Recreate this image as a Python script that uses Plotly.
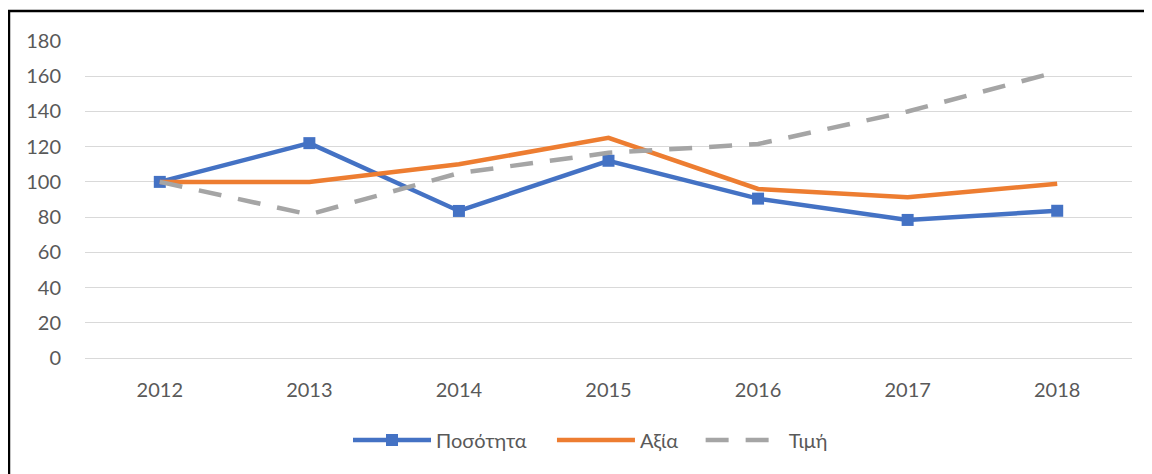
import plotly.graph_objects as go

years = ["2012", "2013", "2014", "2015", "2016", "2017", "2018"]
posotita = [100, 122, 83.5, 112, 90.5, 78.4, 83.6]
axia = [100, 100, 110, 125, 96, 91.3, 99]
timi = [100, 81.5, 105, 116.5, 121.5, 140, 162.5]
y_ticks = [0, 20, 40, 60, 80, 100, 120, 140, 160, 180]

fig = go.Figure()
fig.add_trace(go.Scatter(
    x=years, y=posotita, name="Ποσότητα", mode="lines+markers",
    line=dict(color="#4472C4", width=4.5),
    marker=dict(symbol="square", size=12, color="#4472C4"),
    legend="legend",
))
fig.add_trace(go.Scatter(
    x=years, y=axia, name="Αξία", mode="lines",
    line=dict(color="#ED7D31", width=4.5),
    legend="legend2",
))
fig.add_trace(go.Scatter(
    x=years, y=timi, name="Τιμή", mode="lines",
    line=dict(color="#A5A5A5", width=4.5, dash="23px,17px"),
    legend="legend3",
))

leg_common = dict(
    orientation="h", xanchor="left", y=-0.259, yanchor="middle",
    font=dict(size=20, color="#595959"), itemwidth=78,
    bgcolor="rgba(0,0,0,0)",
)

fig.update_layout(
    width=1144, height=466,
    margin=dict(l=77, r=20, t=33, b=116),
    paper_bgcolor="white", plot_bgcolor="white",
    font=dict(family="Lato, Carlito, 'Open Sans', sans-serif", size=20, color="#595959"),
    xaxis=dict(
        type="category", range=[-0.5, 6.5], showgrid=False, zeroline=False,
        showline=False, ticks="", ticklabelstandoff=18,
        tickfont=dict(size=20, color="#595959"),
    ),
    yaxis=dict(
        range=[0, 180], tickvals=y_ticks, showgrid=True, gridcolor="#D9D9D9",
        gridwidth=1, zeroline=True, zerolinecolor="#D9D9D9", zerolinewidth=1,
        showline=False, ticks="", ticklabelstandoff=23,
        tickfont=dict(size=20, color="#595959"),
    ),
    legend=dict(x=0.2512, **leg_common),
    legend2=dict(x=0.446, **leg_common),
    legend3=dict(x=0.588, **leg_common),
    showlegend=True,
    shapes=[dict(
        type="rect", xref="paper", yref="paper",
        x0=-0.0726, x1=1.03, y0=-0.4, y1=1.0946,
        line=dict(color="black", width=2.5), fillcolor="rgba(0,0,0,0)", layer="below",
    )],
)

fig.write_html("out.html")
